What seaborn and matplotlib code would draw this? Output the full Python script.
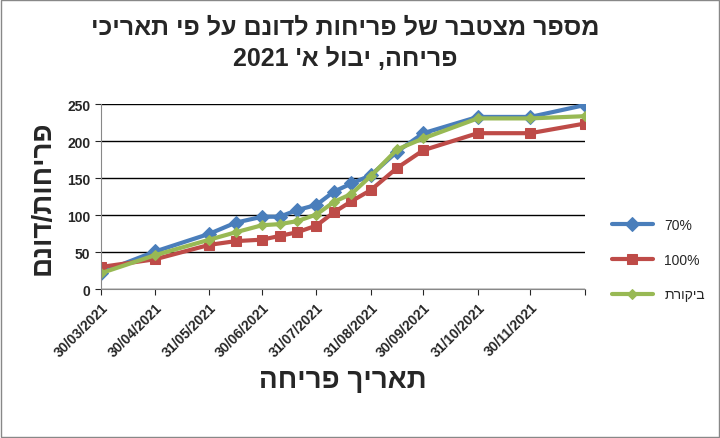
import matplotlib
matplotlib.use("Agg")
import matplotlib.pyplot as plt
import seaborn as sns
import pandas as pd

dates = ["2021-03-30","2021-04-30","2021-05-31","2021-06-15","2021-06-30","2021-07-10",
         "2021-07-20","2021-07-31","2021-08-10","2021-08-20","2021-08-31","2021-09-15",
         "2021-09-30","2021-10-31","2021-11-30","2021-12-31"]
s70 = [22.5,51,75,90,98,98,107,114,132,143,154,186,211,233,233,249]
s100 = [30,40.5,60,65,67,72,77,86,104,119,134,164,188,211,211,224]
ctrl = [21.6,46,67,77,86.5,88,92,101,118,129,153,189,204,231,231,234]
tick_dates = ["2021-03-30","2021-04-30","2021-05-31","2021-06-30","2021-07-31",
              "2021-08-31","2021-09-30","2021-10-31","2021-11-30","2021-12-31"]
tick_labels = ["30/03/2021","30/04/2021","31/05/2021","30/06/2021","31/07/2021",
               "31/08/2021","30/09/2021","31/10/2021","30/11/2021",""]
names = ["70%","100%","תרוקיב"]

sns.set_style("white")
plt.rcParams['font.family'] = ['Liberation Sans','DejaVu Sans']

d = pd.to_datetime(dates)
df = pd.concat([pd.DataFrame({"date": d, "v": vals, "s": n})
                for vals, n in zip([s70, s100, ctrl], names)])

fig = plt.figure(figsize=(7.2, 4.39), dpi=100)
ax = fig.add_axes([0.140, 0.339, 0.672, 0.421])
pal = {"70%": "#4a7ebb", "100%": "#be4b48", "תרוקיב": "#98b954"}
mk = {"70%": "D", "100%": "s", "תרוקיב": "D"}
ms = {"70%": 7, "100%": 7, "תרוקיב": 5}
for n in names:
    sub = df[df.s == n]
    sns.lineplot(data=sub, x="date", y="v", ax=ax, color=pal[n], marker=mk[n],
                 markersize=ms[n], markeredgecolor=pal[n], linewidth=3, label=n)

ax.set_ylim(0, 250)
ax.set_yticks(range(0, 251, 50))
ax.set_xlim(pd.Timestamp("2021-03-30"), pd.Timestamp("2021-12-31"))
ax.set_xticks(pd.to_datetime(tick_dates))
ax.set_xticklabels(tick_labels, rotation=45, ha="right", rotation_mode="anchor",
                   fontsize=10, fontweight="bold")
for lab in ax.get_yticklabels():
    lab.set_fontweight("bold"); lab.set_fontsize(10)
ax.tick_params(axis="both", length=4, direction="out", bottom=True, left=True)
ax.grid(axis="y", color="black", linewidth=1)
for sp in ["top", "right"]:
    ax.spines[sp].set_visible(False)
ax.spines["left"].set_color("#888888")
ax.spines["bottom"].set_color("#888888")
ax.set_xlabel("החירפ ךיראת", fontsize=20, fontweight="bold", labelpad=6)
ax.set_ylabel("םנוד/תוחירפ", fontsize=20, fontweight="bold", labelpad=8)
fig.suptitle("יכיראת יפ לע םנודל תוחירפ לש רבטצמ רפסמ\n2021 'א לובי ,החירפ",
             fontsize=18, fontweight="bold", x=0.48, y=0.965, linespacing=1.4)
ax.legend(loc="center left", bbox_to_anchor=(1.03, 0.16), frameon=False, fontsize=10,
          handlelength=3, labelspacing=1.5)
fig.patches.append(plt.Rectangle((0.002, 0.002), 0.996, 0.996, transform=fig.transFigure,
                                 fill=False, edgecolor="#888888", linewidth=1))
fig.savefig("out.png", dpi=100)
